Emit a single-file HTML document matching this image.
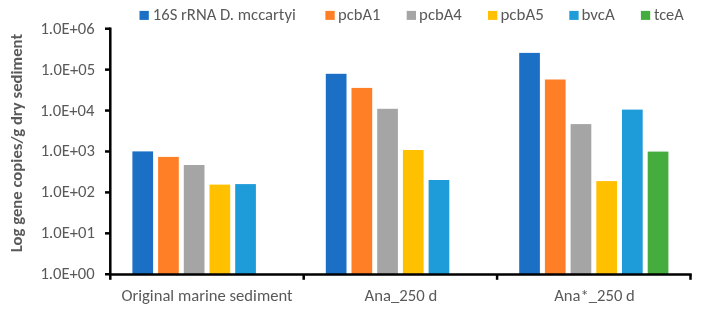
<!DOCTYPE html><html><head><meta charset="utf-8"><style>html,body{margin:0;padding:0;background:#fff;width:701px;height:312px;overflow:hidden}svg{display:block}text{font-family:Carlito,"Liberation Sans",sans-serif;fill:#595959}</style></head><body>
<svg width="701" height="312" viewBox="0 0 701 312">
<rect width="701" height="312" fill="#fff"/>
<rect x="132.40" y="151.40" width="20.7" height="123.20" fill="#1B70C6"/>
<rect x="158.10" y="156.90" width="20.7" height="117.70" fill="#FF7F27"/>
<rect x="183.80" y="165.00" width="20.7" height="109.60" fill="#A5A5A5"/>
<rect x="209.50" y="184.60" width="20.7" height="90.00" fill="#FFC000"/>
<rect x="235.20" y="184.10" width="20.7" height="90.50" fill="#1E9CD9"/>
<rect x="325.80" y="73.80" width="20.7" height="200.80" fill="#1B70C6"/>
<rect x="351.50" y="87.90" width="20.7" height="186.70" fill="#FF7F27"/>
<rect x="377.20" y="108.80" width="20.7" height="165.80" fill="#A5A5A5"/>
<rect x="402.90" y="150.00" width="20.7" height="124.60" fill="#FFC000"/>
<rect x="428.60" y="180.00" width="20.7" height="94.60" fill="#1E9CD9"/>
<rect x="519.20" y="52.90" width="20.7" height="221.70" fill="#1B70C6"/>
<rect x="544.90" y="79.50" width="20.7" height="195.10" fill="#FF7F27"/>
<rect x="570.60" y="124.10" width="20.7" height="150.50" fill="#A5A5A5"/>
<rect x="596.30" y="181.10" width="20.7" height="93.50" fill="#FFC000"/>
<rect x="622.00" y="109.60" width="20.7" height="165.00" fill="#1E9CD9"/>
<rect x="647.70" y="151.60" width="20.7" height="123.00" fill="#45AD3E"/>
<g stroke="#000" stroke-width="2.5" fill="none">
<path d="M110.30 27.46 V274.60 H691.75"/>
<path d="M105 274.25 H110.30"/>
<path d="M105 233.33 H110.30"/>
<path d="M105 192.40 H110.30"/>
<path d="M105 151.48 H110.30"/>
<path d="M105 110.55 H110.30"/>
<path d="M105 69.63 H110.30"/>
<path d="M105 28.71 H110.30"/>
<path d="M110.30 274.60 V279.8"/>
<path d="M303.70 274.60 V279.8"/>
<path d="M497.10 274.60 V279.8"/>
<path d="M690.50 274.60 V279.8"/>
</g>
<text x="40.45" y="279.25" font-size="16.6" textLength="54.20" lengthAdjust="spacingAndGlyphs">1.0E+00</text>
<text x="40.70" y="238.33" font-size="16.6" textLength="54.20" lengthAdjust="spacingAndGlyphs">1.0E+01</text>
<text x="40.70" y="197.40" font-size="16.6" textLength="54.20" lengthAdjust="spacingAndGlyphs">1.0E+02</text>
<text x="40.70" y="156.48" font-size="16.6" textLength="54.20" lengthAdjust="spacingAndGlyphs">1.0E+03</text>
<text x="40.20" y="115.55" font-size="16.6" textLength="54.20" lengthAdjust="spacingAndGlyphs">1.0E+04</text>
<text x="40.95" y="74.63" font-size="16.6" textLength="54.20" lengthAdjust="spacingAndGlyphs">1.0E+05</text>
<text x="40.45" y="33.71" font-size="16.6" textLength="54.20" lengthAdjust="spacingAndGlyphs">1.0E+06</text>
<text x="121.40" y="300.80" font-size="16.6" textLength="171.26" lengthAdjust="spacingAndGlyphs">Original marine sediment</text>
<text x="364.60" y="300.80" font-size="16.6" textLength="72.74" lengthAdjust="spacingAndGlyphs">Ana_250 d</text>
<text x="554.20" y="300.80" font-size="16.6" textLength="80.65" lengthAdjust="spacingAndGlyphs">Ana*_250 d</text>
<rect x="139.5" y="10.9" width="9.3" height="9.0" fill="#1B70C6"/>
<text x="152.80" y="19.70" font-size="16.6" textLength="142.93" lengthAdjust="spacingAndGlyphs">16S rRNA D. mccartyi</text>
<rect x="325.4" y="10.9" width="9.3" height="9.0" fill="#FF7F27"/>
<text x="338.06" y="19.70" font-size="16.6" textLength="42.26" lengthAdjust="spacingAndGlyphs">pcbA1</text>
<rect x="406.7" y="10.9" width="9.3" height="9.0" fill="#A5A5A5"/>
<text x="419.14" y="19.70" font-size="16.6" textLength="42.68" lengthAdjust="spacingAndGlyphs">pcbA4</text>
<rect x="488.0" y="10.9" width="9.3" height="9.0" fill="#FFC000"/>
<text x="500.42" y="19.70" font-size="16.6" textLength="43.37" lengthAdjust="spacingAndGlyphs">pcbA5</text>
<rect x="569.3" y="10.9" width="9.3" height="9.0" fill="#1E9CD9"/>
<text x="581.42" y="19.70" font-size="16.6" textLength="33.34" lengthAdjust="spacingAndGlyphs">bvcA</text>
<rect x="640.9" y="10.9" width="9.3" height="9.0" fill="#45AD3E"/>
<text x="653.95" y="19.70" font-size="16.6" textLength="29.78" lengthAdjust="spacingAndGlyphs">tceA</text>
<text transform="translate(21.6 252.21) rotate(-90)" x="0" y="0" font-size="16.6" font-weight="bold" textLength="218.39" lengthAdjust="spacingAndGlyphs">Log gene copies/g dry sediment</text>
</svg></body></html>
